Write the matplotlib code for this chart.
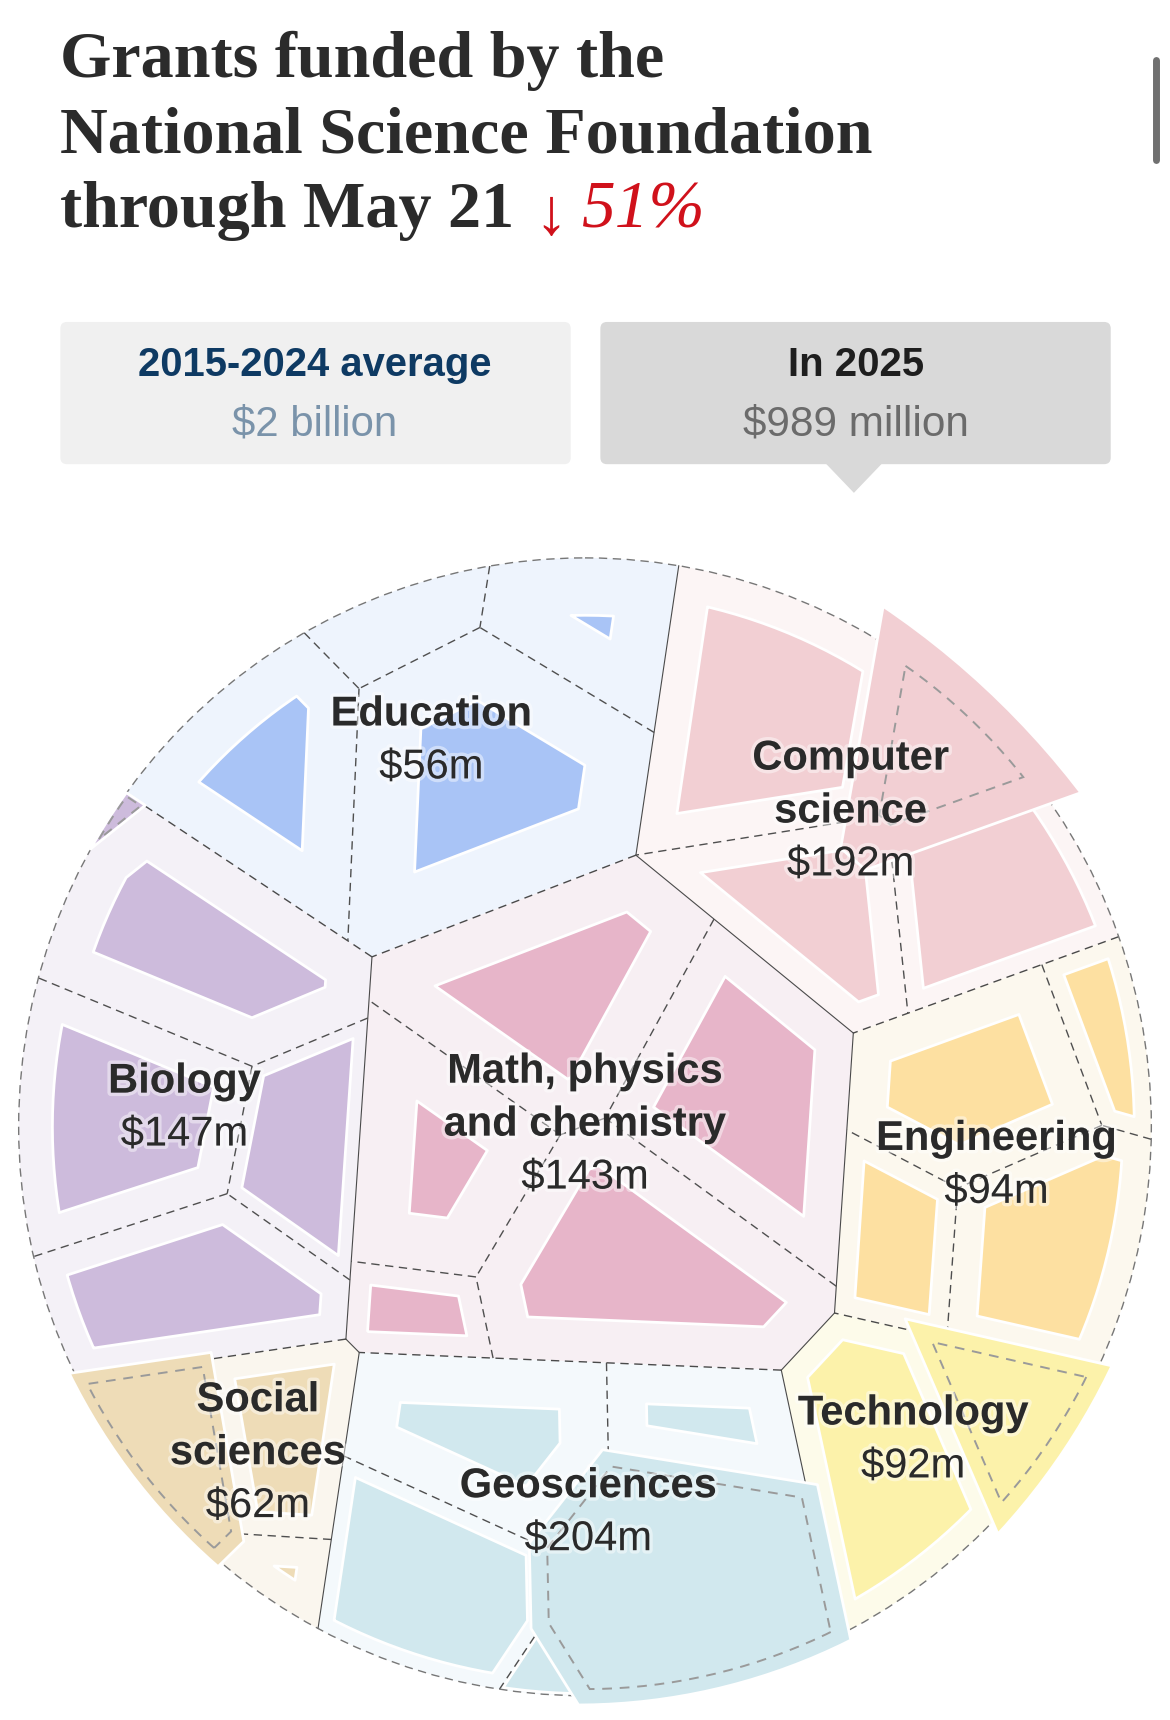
import numpy as np
import matplotlib
matplotlib.use('Agg')
import matplotlib.pyplot as plt
from matplotlib.patches import Polygon, FancyBboxPatch, Circle
import matplotlib.patheffects as pe

# ---- data ($ millions) ----
categories = ['Education', 'Computer science', 'Math, physics and chemistry', 'Biology',
              'Engineering', 'Technology', 'Social sciences', 'Geosciences']
label_lines = [['Education'], ['Computer', 'science'], ['Math, physics', 'and chemistry'],
               ['Biology'], ['Engineering'], ['Technology'], ['Social', 'sciences'], ['Geosciences']]
total_2025 = [56, 192, 143, 147, 94, 92, 62, 204]

# sub-programmes: category index, 2015-2024 average, 2025
cell_cat = [0, 0, 0, 0, 1, 1, 1, 1, 2, 2, 2, 2, 2, 3, 3, 3, 3, 3, 4, 4, 4, 4, 5, 5, 6, 6, 6, 7, 7, 7, 7, 7]
cell_avg = [80, 23, 45, 138, 109, 30, 64, 68, 108, 101, 71, 118, 23, 101, 89, 47, 78, 1.5,
            74, 26, 38, 74, 86, 30, 34, 46, 13, 74, 40, 70, 108, 6]
cell_2025 = [18, 0, 1, 37, 54, 66, 28, 44, 33, 43, 11, 48, 8, 35, 41, 31, 38.4, 1.6,
             27, 11, 19, 37, 50, 42, 40, 21.7, 0.3, 17, 6, 50, 126, 5]

avg_label = '$2 billion'
now_label = '$989 million'
change_label = '51%'

inner_colors = ['#a9c4f6', '#f2cfd3', '#e7b5c9', '#cdbbdc', '#fde0a1', '#fcf2aa', '#eedcb7', '#d1e8ee']
bg_colors = ['#eef4fd', '#fcf5f5', '#f7eff3', '#f4f1f7', '#fcf8ee', '#fdfbea', '#faf6ee', '#f4f9fc']

# ---- layout (reference pixel space) ----
W, H = 1066, 1560
CX, CY, R = 533, 1022, 516
cat_seeds = np.array([(400, 660), (790, 718), (540, 1025), (175, 1000),
                      (910, 1050), (850, 1315), (225, 1340), (525, 1385)], float)
seeds = np.array([(225, 705), (372, 560), (528, 585), (450, 715),
                  (685, 640), (855, 670), (715, 830), (905, 810),
                  (490, 880), (690, 990), (392, 1020), (585, 1135), (372, 1180),
                  (185, 840), (115, 1010), (268, 1040), (170, 1180), (104, 738),
                  (885, 975), (1005, 930), (812, 1115), (950, 1125),
                  (795, 1320), (915, 1268),
                  (155, 1320), (270, 1300), (262, 1430),
                  (450, 1282), (648, 1278), (385, 1425), (625, 1420), (497, 1500)], float)
label_pos = [(393, 648), (775, 688), (533, 972), (168, 981), (908, 1033), (832, 1282), (235, 1270), (536, 1348)]
line_step = 48


def clip(poly, a, b):
    # keep the part of poly with a.x <= b
    out = []
    n = len(poly)
    for k in range(n):
        p = poly[k]
        q = poly[(k + 1) % n]
        fp = a[0] * p[0] + a[1] * p[1] - b
        fq = a[0] * q[0] + a[1] * q[1] - b
        if fp <= 0:
            out.append(p)
        if (fp <= 0) != (fq <= 0):
            t = fp / (fp - fq)
            out.append((p[0] + t * (q[0] - p[0]), p[1] + t * (q[1] - p[1])))
    return out


def signed_area(poly):
    P = np.asarray(poly)
    x, y = P[:, 0], P[:, 1]
    return 0.5 * np.sum(x * np.roll(y, -1) - np.roll(x, -1) * y)


def area(poly):
    return abs(signed_area(poly)) if len(poly) > 2 else 0.0


def centroid(poly):
    P = np.asarray(poly)
    x, y = P[:, 0], P[:, 1]
    c = x * np.roll(y, -1) - np.roll(x, -1) * y
    A = 0.5 * c.sum()
    return np.array([((x + np.roll(x, -1)) * c).sum() / (6 * A), ((y + np.roll(y, -1)) * c).sum() / (6 * A)])


def power_cells(pts, w, container):
    cells = []
    for i in range(len(pts)):
        poly = container
        si = pts[i]
        for j in np.argsort(np.hypot(*(pts - si).T)):
            if j == i:
                continue
            sj = pts[j]
            poly = clip(poly, 2 * (sj - si), sj @ sj - si @ si - w[j] + w[i])
            if len(poly) < 3:
                poly = []
                break
        cells.append(poly)
    return cells


def fit(pts, targets, container, iters=160):
    # adjust power weights until cell areas follow the targets
    w = np.zeros(len(pts))
    for _ in range(iters):
        cells = power_cells(pts, w, container)
        w += 0.35 * (targets - np.array([area(c) for c in cells]))
    return power_cells(pts, w, container), w


def shared_edges(pts, w, cells, pairs):
    segs = []
    for i, j in pairs:
        if len(cells[i]) < 3:
            continue
        a = 2 * (pts[j] - pts[i])
        b = pts[j] @ pts[j] - pts[i] @ pts[i] - w[j] + w[i]
        P = np.asarray(cells[i])
        on = P[np.abs(P @ a - b) / np.hypot(*a) < 0.5]
        if len(on) < 2:
            continue
        proj = on @ np.array([-a[1], a[0]])
        p0, p1 = on[np.argmin(proj)], on[np.argmax(proj)]
        if np.hypot(*(p1 - p0)) > 1:
            segs.append((p0, p1))
    return segs


ang = np.linspace(0, 2 * np.pi, 240, endpoint=False)
circle_poly = [(CX + R * np.cos(t), CY + R * np.sin(t)) for t in ang]
n = len(seeds)
cat_idx = [[i for i in range(n) if cell_cat[i] == k] for k in range(len(categories))]
avg = np.array(cell_avg, float)
cat_avg = np.array([avg[ix].sum() for ix in cat_idx])

top_cells, top_w = fit(cat_seeds, cat_avg / cat_avg.sum() * area(circle_poly), circle_poly)
cells = [None] * n
sub_segs = []
for k, ix in enumerate(cat_idx):
    pts = seeds[ix]
    sub, sw = fit(pts, avg[ix] / cat_avg[k] * area(top_cells[k]), top_cells[k])
    for m, i in enumerate(ix):
        cells[i] = sub[m]
    pairs = [(a, b) for a in range(len(ix)) for b in range(a + 1, len(ix))]
    sub_segs += shared_edges(pts, sw, sub, pairs)
top_pairs = [(a, b) for a in range(len(categories)) for b in range(a + 1, len(categories))]
top_segs = shared_edges(cat_seeds, top_w, top_cells, top_pairs)


def inset(poly, d):
    s = signed_area(poly)
    out = list(poly)
    P = np.asarray(poly)
    m = len(P)
    for k in range(m):
        p = P[k]
        e = P[(k + 1) % m] - p
        L = np.hypot(*e)
        if L < 1e-6:
            continue
        nrm = np.array([e[1], -e[0]]) / L if s > 0 else np.array([-e[1], e[0]]) / L
        out = clip(out, nrm, nrm @ p - d)
        if len(out) < 3:
            return []
    return out


def inner_poly(poly, ratio):
    A = area(poly)
    if ratio >= 1:
        c = centroid(poly)
        return [tuple(c + (np.array(p) - c) * np.sqrt(ratio)) for p in poly]
    if ratio <= 0:
        return []
    lo, hi = 0.0, 400.0
    for _ in range(30):
        mid = 0.5 * (lo + hi)
        if area(inset(poly, mid)) > ratio * A:
            lo = mid
        else:
            hi = mid
    return inset(poly, lo)


# ---- figure ----
fig = plt.figure(figsize=(11.7, 17.2), dpi=100)
ax = fig.add_axes([0, 0, 1, 1])
ax.set_xlim(0, W)
ax.set_ylim(H, 0)
ax.axis('off')
renderer = fig.canvas.get_renderer()


def fit_text(x, y, s, width, size=30, **kw):
    t = ax.text(x, y, s, fontsize=size, **kw)
    bb = t.get_window_extent(renderer)
    t.set_fontsize(size * width / (bb.width * W / 1170.0))
    return t


serif = ['Liberation Serif', 'DejaVu Serif']
sans = ['Liberation Sans', 'DejaVu Sans']
ink = '#2b2b2b'
red = '#d0111b'
t2 = fit_text(55, 138, 'National Science Foundation', 738, family=serif, weight='bold',
              color=ink, va='baseline')
fs = t2.get_fontsize()
ax.text(55, 70, 'Grants funded by the', fontsize=fs, family=serif, weight='bold', color=ink, va='baseline')
ax.text(55, 206, 'through May 21', fontsize=fs, family=serif, weight='bold', color=ink, va='baseline')
ax.text(502, 212, '\u2193', fontsize=fs, family=serif, color=red, ha='center', va='baseline')
ax.text(530, 206, change_label, fontsize=fs * 1.02, family=serif, style='italic', color=red, va='baseline')

# scroll bar
ax.plot([1053, 1053], [54, 145], color='#707070', lw=5, solid_capstyle='round')

# summary boxes
ax.add_patch(FancyBboxPatch((55, 292), 465, 129, boxstyle='round,pad=0,rounding_size=6',
                            fc='#f0f0f0', ec='none'))
ax.add_patch(FancyBboxPatch((547, 292), 465, 129, boxstyle='round,pad=0,rounding_size=6',
                            fc='#d9d9d9', ec='none'))
ax.add_patch(Polygon([(752, 420), (804, 420), (778, 447)], closed=True, fc='#d9d9d9', ec='none'))
fit_text(287, 331, '2015-2024 average', 322, family=sans, weight='bold', color='#0e3a63', ha='center', va='center')
fit_text(287, 385, avg_label, 150, family=sans, color='#7a93aa', ha='center', va='center')
fit_text(780, 331, 'In 2025', 124, family=sans, weight='bold', color='#1e1e1e', ha='center', va='center')
fit_text(780, 385, now_label, 205, family=sans, color='#6b6b6b', ha='center', va='center')

# cell backgrounds
for i, c in enumerate(cells):
    if len(c) > 2:
        ax.add_patch(Polygon(c, closed=True, fc=bg_colors[cell_cat[i]], ec='none', zorder=1))

ratios = [cell_2025[i] / cell_avg[i] for i in range(n)]
inners = [inner_poly(cells[i], ratios[i]) if len(cells[i]) > 2 else [] for i in range(n)]
for i in range(n):
    if ratios[i] < 1 and len(inners[i]) > 2:
        ax.add_patch(Polygon(inners[i], closed=True, fc=inner_colors[cell_cat[i]], ec='white',
                             lw=2, joinstyle='round', zorder=2))

# boundaries: steep category borders solid, the rest dashed
for p0, p1 in top_segs:
    dx, dy = abs(p1[0] - p0[0]), abs(p1[1] - p0[1])
    if dy > 0.8 * dx:
        ax.plot([p0[0], p1[0]], [p0[1], p1[1]], color='#4a4a4a', lw=0.8, zorder=3)
    else:
        ax.plot([p0[0], p1[0]], [p0[1], p1[1]], color='#4a4a4a', lw=1.0, ls=(0, (6, 4)), zorder=3)
for p0, p1 in sub_segs:
    ax.plot([p0[0], p1[0]], [p0[1], p1[1]], color='#4f4f4f', lw=1.0, ls=(0, (6, 4)), zorder=3)

ax.add_patch(Circle((CX, CY), R, fill=False, ec='#777777', lw=1.0, ls=(0, (6, 4)), zorder=3))

# programmes that grew past their average
for i in range(n):
    if ratios[i] >= 1 and len(inners[i]) > 2:
        ax.add_patch(Polygon(inners[i], closed=True, fc=inner_colors[cell_cat[i]], ec='white',
                             lw=2, joinstyle='round', zorder=4))
        out = inset(cells[i], 6 if area(cells[i]) > 3000 else 2)
        if len(out) > 2:
            ax.add_patch(Polygon(out, closed=True, fill=False, ec='#9a9a9a', lw=1.4,
                                 ls=(0, (5, 4)), zorder=5))

# labels
glow = [pe.withStroke(linewidth=5, foreground='white', alpha=0.45)]
for k, lines in enumerate(label_lines):
    x, y = label_pos[k]
    for m, s in enumerate(lines):
        ax.text(x, y + m * line_step, s, fontsize=30, family=sans, weight='bold', color='#2a2a2a',
                ha='center', va='center', zorder=6, path_effects=glow)
    ax.text(x, y + len(lines) * line_step, '${}m'.format(total_2025[k]), fontsize=30, family=sans,
            color='#2a2a2a', ha='center', va='center', zorder=6, path_effects=glow)

fig.savefig('out.png', dpi=100, facecolor='white')
